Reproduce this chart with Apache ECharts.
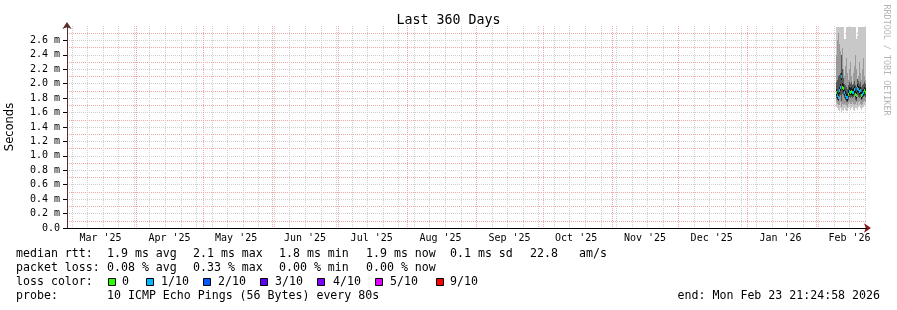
<!DOCTYPE html>
<html><head><meta charset="utf-8">
<script src="https://cdn.jsdelivr.net/npm/echarts@6/dist/echarts.min.js"></script>
<style>html,body{margin:0;padding:0;background:#fff}#c{width:897px;height:310px}</style>
</head><body><div id="c"></div>
<script>
// ---- time range ----
const END_TIME = '2026-02-23T21:24:58Z';
const SPAN_DAYS = 360;
// ---- x axis: month boundaries (major grid) and month labels ----
const monthStarts = ['2025-03-01','2025-04-01','2025-05-01','2025-06-01','2025-07-01','2025-08-01','2025-09-01','2025-10-01','2025-11-01','2025-12-01','2026-01-01','2026-02-01'];
const monthLabels = ["Mar '25","Apr '25","May '25","Jun '25","Jul '25","Aug '25","Sep '25","Oct '25","Nov '25","Dec '25","Jan '26","Feb '26"];
const monthLabelDates = ['2025-03-16','2025-04-16','2025-05-16','2025-06-16','2025-07-16','2025-08-16','2025-09-16','2025-10-16','2025-11-16','2025-12-16','2026-01-16','2026-02-16'];
// minor grid: weeks starting Monday
const firstMonday = '2025-03-03';
// ---- y axis ----
const yMin = 0, yMax = 2.8, yMinorStep = 0.1, yMajorStep = 0.2;
// ---- smoke data (ms), one column per RRD consolidation step ----
const smokeStart = '2026-02-09T22:00:00Z';
const smokeStepHours = 10.8;
const smokeMax   = [2.78,2.78,2.78,2.78,2.78,2.78,2.78,2.78,2.62,2.62,2.78,2.78,2.78,2.78,2.78,2.78,2.78,2.78,2.78,2.78,2.62,2.66,2.78,2.78,2.78,2.78,2.78,2.78,2.78,2.78];
const smokeMin   = [1.68,1.66,1.64,1.62,1.66,1.60,1.64,1.62,1.66,1.64,1.62,1.62,1.66,1.68,1.64,1.66,1.68,1.64,1.62,1.66,1.66,1.64,1.68,1.70,1.66,1.64,1.66,1.68,1.70,1.68];
const smokeHi2   = [2.40,2.60,2.70,2.55,2.45,2.30,2.50,2.20,2.10,2.25,2.35,2.15,2.05,2.20,2.30,2.10,2.00,2.15,2.25,2.40,2.20,2.05,2.10,2.30,2.15,2.05,2.20,2.35,2.10,2.05];
const smokeLo2   = [1.74,1.72,1.70,1.70,1.74,1.68,1.72,1.70,1.72,1.70,1.70,1.68,1.72,1.74,1.72,1.72,1.74,1.72,1.70,1.72,1.74,1.70,1.74,1.76,1.72,1.70,1.72,1.74,1.76,1.74];
const smokeHi3   = [2.02,2.05,2.10,2.12,2.15,2.40,2.20,2.08,2.00,1.98,1.95,1.92,1.98,2.02,2.00,2.02,1.98,2.00,2.04,1.98,1.95,2.06,2.04,2.00,2.02,1.96,1.98,2.00,2.02,2.00];
const smokeLo3   = [1.80,1.77,1.76,1.82,1.84,1.76,1.86,1.84,1.80,1.77,1.75,1.74,1.78,1.82,1.80,1.82,1.80,1.82,1.84,1.78,1.76,1.84,1.82,1.80,1.82,1.77,1.79,1.81,1.83,1.81];
const smokeMedian= [1.88,1.84,1.82,1.91,1.95,2.10,1.96,1.94,1.88,1.85,1.82,1.81,1.86,1.90,1.89,1.90,1.88,1.89,1.92,1.86,1.84,1.94,1.92,1.90,1.91,1.84,1.86,1.88,1.91,1.89];
const smokeLoss  = [0,1,1,1,1,1,0,0,1,1,1,1,0,1,0,0,1,1,1,0,0,1,1,1,1,0,1,1,0,0];
// ---- legend ----
const lossColors = ['#26ff00','#00b8ff','#0059ff','#5e00ff','#7e00ff','#dd00ff','#ff0000'];
const lossLabels = ['0','1/10','2/10','3/10','4/10','5/10','9/10'];
const statsRtt  = ['1.9 ms avg','2.1 ms max','1.8 ms min','1.9 ms now','0.1 ms sd','22.8','am/s'];
const statsLoss = ['0.08 % avg','0.33 % max','0.00 % min','0.00 % now'];
const probeText = '10 ICMP Echo Pings (56 Bytes) every 80s';
const endText = 'end: Mon Feb 23 21:24:58 2026';

const DAY = 86400000;
const endMs = Date.parse(END_TIME);
const startMs = endMs - SPAN_DAYS*DAY;
const ms = s => Date.parse(s.length === 10 ? s + 'T00:00:00Z' : s);
const majorLines = monthStarts.map(ms);
const minorLines = [];
for (let t = ms(firstMonday); t <= endMs; t += 7*DAY) minorLines.push(t);
const labelVals = monthLabelDates.map(ms);
const stepMs = smokeStepHours*3600000;
const smokeData = smokeMedian.map((m,i)=>[ms(smokeStart)+i*stepMs, smokeMin[i], smokeMax[i], smokeLo2[i], smokeHi2[i], smokeLo3[i], smokeHi3[i], m, smokeLoss[i]]);

const MONO = '"DejaVu Sans Mono", monospace';
const MAJOR_COL = '#f2a6a6', MINOR_COL = '#cfcfcf';
const chart = echarts.init(document.getElementById('c'), null, {renderer:'canvas'});

function gridLineRender(color){
  return function(params, api){
    const p0 = api.coord([api.value(0), yMin]);
    const p1 = api.coord([api.value(0), yMax]);
    const x = Math.round(p0[0]) + 0.5;
    const y1 = Math.round(p1[1]), y2 = Math.round(p0[1]);
    return {type:'line', silent:true, shape:{x1:x,y1:y1,x2:x,y2:y2}, style:{stroke:color,lineWidth:1,lineDash:[1,1],lineCap:'butt'}};
  };
}

const legendRows = [];
function txt(x,y,s,extra){ return Object.assign({type:'text', x:x, y:y, style:{text:s, font:'11.6px '+MONO, fill:'#000', textVerticalAlign:'middle'}}, extra||{}); }
const rttX = [107,193,279,366,450,530,579];
const lossX = [107,193,279,366];
const boxX = [108,146,203,260,317,375,436];
const lblX = [122,161,218,275,333,390,450];
legendRows.push(txt(16,254,'median rtt:'));
statsRtt.forEach((s,i)=>legendRows.push(txt(rttX[i],254,s)));
legendRows.push(txt(16,268,'packet loss:'));
statsLoss.forEach((s,i)=>legendRows.push(txt(lossX[i],268,s)));
legendRows.push(txt(16,282,'loss color:'));
lossColors.forEach((c,i)=>{
  legendRows.push({type:'rect', shape:{x:boxX[i]+0.5,y:278.5,width:7,height:7}, style:{fill:c, stroke:'#000', lineWidth:1}});
  legendRows.push(txt(lblX[i],282,lossLabels[i]));
});
legendRows.push(txt(16,296,'probe:'));
legendRows.push(txt(107,296,probeText));
legendRows.push({type:'text', right:17, y:296, style:{text:endText, font:'11.6px '+MONO, fill:'#000', textVerticalAlign:'middle'}});
legendRows.push({type:'text', x:886, y:60, rotation:-Math.PI/2, style:{text:'RRDTOOL / TOBI OETIKER', font:'8.4px '+MONO, fill:'#b4b4b4', textAlign:'center', textVerticalAlign:'middle'}});

const option = {
  animation:false,
  backgroundColor:'#fff',
  title:{text:'Last 360 Days', left:'center', top:9, textStyle:{fontFamily:MONO, fontSize:13.3, fontWeight:'normal', color:'#000'}},
  grid:{left:67, top:26, width:800, height:202, containLabel:false, outerBoundsMode:'none'},
  xAxis:[{
    type:'value', min:startMs, max:endMs, z:3, position:'bottom',
    axisLine:{show:true, onZero:false, lineStyle:{color:'#000', width:1}},
    axisTick:{show:false},
    splitLine:{show:false},
    axisLabel:{show:true, customValues:labelVals, margin:5, fontFamily:MONO, fontSize:10, color:'#000',
      formatter:v=>{const i=labelVals.indexOf(v); return i>=0?monthLabels[i]:'';}}
  },{
    type:'value', min:startMs, max:endMs, z:2, position:'bottom',
    axisLine:{show:true, onZero:false, symbol:['none','arrow'], symbolSize:[7,7], symbolOffset:[0,4], lineStyle:{color:'#8b1a1a', width:1}},
    axisTick:{show:false}, axisLabel:{show:false}, splitLine:{show:false}
  }],
  yAxis:[{
    type:'value', min:yMin, max:yMax, interval:yMinorStep, z:1, position:'left',
    axisLine:{show:false}, axisTick:{show:false}, axisLabel:{show:false},
    splitLine:{show:true, showMinLine:false, showMaxLine:false, lineStyle:{color:[MAJOR_COL, MINOR_COL], type:[1,1], width:1}}
  },{
    type:'value', min:yMin, max:yMax, interval:yMajorStep, z:3, position:'left',
    name:'Seconds', nameLocation:'middle', nameGap:51, nameRotate:90,
    nameTextStyle:{fontFamily:'"DejaVu Sans", sans-serif', fontSize:11.5, color:'#000'},
    axisLine:{show:true, onZero:false, symbol:['none','arrow'], symbolSize:[7,7], symbolOffset:[0,4], lineStyle:{color:'#5a2a2a', width:1}},
    axisTick:{show:true, length:4, lineStyle:{color:'#000'}},
    splitLine:{show:false},
    axisLabel:{show:true, margin:7, fontFamily:MONO, fontSize:10, color:'#000', showMaxLabel:false,
      formatter:v=> Math.abs(v-Math.round(v/yMajorStep)*yMajorStep)>1e-6 || v>2.7 ? '' : (v===0?'0.0':v.toFixed(1)+' m')}
  }],
  graphic:legendRows,
  series:[
    {type:'custom', xAxisIndex:0, yAxisIndex:0, z:1, silent:true, data:minorLines.map(t=>[t]), renderItem:gridLineRender(MINOR_COL)},
    {type:'custom', xAxisIndex:0, yAxisIndex:0, z:1, silent:true, data:majorLines.map(t=>[t]), renderItem:gridLineRender(MAJOR_COL)},
    {type:'custom', xAxisIndex:0, yAxisIndex:0, z:5, silent:true, data:smokeData,
      renderItem:function(params, api){
        const t = api.value(0);
        const xa = Math.round(api.coord([t, 0])[0]), xb = Math.round(api.coord([t+stepMs, 0])[0]);
        const w = Math.max(1, xb-xa);
        const band = (lo,hi,color)=>{const a=Math.round(api.coord([t,hi])[1]), b=Math.round(api.coord([t,lo])[1]); return {type:'rect', shape:{x:xa,y:a,width:w,height:b-a}, style:{fill:color}};};
        const m = api.value(7);
        const my = Math.round(api.coord([t,m])[1]);
        const kids = [
          band(api.value(1), api.value(2), '#c8c8c8'),
          band(api.value(3), api.value(4), '#9a9a9a'),
          band(api.value(5), api.value(6), '#555555'),
          band(m-0.05, m+0.05, '#1a1a1a'),
          {type:'rect', shape:{x:xa,y:my-1,width:w,height:3}, style:{fill:lossColors[api.value(8)]}}
        ];
        return {type:'group', children:kids};
      }}
  ]
};
chart.setOption(option);
</script></body></html>
